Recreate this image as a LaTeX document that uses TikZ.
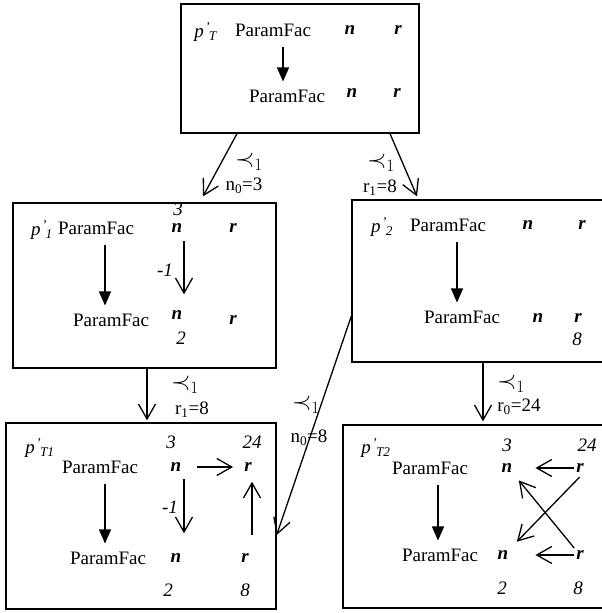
\documentclass[tikz,border=0pt]{standalone}
\usepackage{fontspec}
\setmainfont{Liberation Serif}
\usetikzlibrary{arrows.meta}
\newcommand{\pname}[1]{\textit{p}\textsuperscript{\,'}\kern-2pt\textsubscript{\textit{#1}}}
\begin{document}
\begin{tikzpicture}[x=1pt, y=-1pt, font=\fontsize{19}{22}\selectfont,
        box/.style={draw, line width=1.3pt, inner sep=0pt},
        txt/.style={inner sep=0pt},
        var/.style={inner sep=0pt, font=\fontsize{19}{22}\selectfont\bfseries\itshape},
        num/.style={inner sep=0pt, font=\fontsize{19}{22}\selectfont\itshape},
        fwd/.style={line width=1.2pt, shorten <=10pt, shorten >=8pt, -{Triangle[length=14pt,width=12pt]}},
        dep/.style={line width=1.3pt, -{Straight Barb[length=15pt,width=17pt]}},
        lbl/.style={inner sep=0pt},
        prec/.style={inner sep=0pt, font=\fontsize{24}{26}\selectfont}]
        \useasboundingbox (0,0) rectangle (602,613);
        % ---- 方框 ----
        \node[box, minimum width=238pt, minimum height=129pt] (bT)  at (300,68.5)  {};
        \node[box, minimum width=263pt, minimum height=165pt] (b1)  at (144.5,285.5) {};
        \node[box, minimum width=260pt, minimum height=162pt] (b2)  at (482,281)   {};
        \node[box, minimum width=270pt, minimum height=186pt] (bT1) at (141,516)   {};
        \node[box, minimum width=269pt, minimum height=183pt] (bT2) at (477.5,516.5) {};
        % ---- p'_T ----
        \node[txt] (pT)  at (206,32) {\pname{T}};
        \node[txt] (fTa) at (273,30) {ParamFac};
        \node[var] (nTa) at (350,30) {n};
        \node[var] (rTa) at (398,30) {r};
        \node[txt] (fTb) at (287,96) {ParamFac};
        \node[var] (nTb) at (352,93) {n};
        \node[var] (rTb) at (397,93) {r};
        \draw[fwd] ([xshift=10pt]fTa.south) -- ([xshift=-4pt]fTb.north);
        % ---- p'_1 ----
        \node[txt] (p1)  at (42,230)  {\pname{1}};
        \node[txt] (f1a) at (96,228)  {ParamFac};
        \node[num] (k1a) at (178,209) {3};
        \node[var] (n1a) at (177,228) {n};
        \node[var] (r1a) at (233,228) {r};
        \node[txt] (f1b) at (111,320) {ParamFac};
        \node[var] (n1b) at (177,315) {n};
        \node[num] (k1b) at (181,338) {2};
        \node[var] (r1b) at (233,320) {r};
        \node[num] (m1)  at (165,270) {-1};
        \draw[fwd] ([xshift=9pt]f1a.south) -- ([xshift=-6pt]f1b.north);
        \draw[dep, shorten <=8pt, shorten >=16pt] ([xshift=7pt]n1a.south) -- ([xshift=7pt]n1b.north);
        % ---- p'_2 ----
        \node[txt] (p2)  at (382,227) {\pname{2}};
        \node[txt] (f2a) at (448,225) {ParamFac};
        \node[var] (n2a) at (528,225) {n};
        \node[var] (r2a) at (582,225) {r};
        \node[txt] (f2b) at (462,317) {ParamFac};
        \node[var] (n2b) at (538,318) {n};
        \node[var] (r2b) at (578,318) {r};
        \node[num] (k2b) at (577,339) {8};
        \draw[fwd] ([xshift=9pt]f2a.south) -- ([xshift=-5pt]f2b.north);
        % ---- p'_T1 ----
        \node[txt] (pT1)  at (40,448) {\pname{T1}};
        \node[num] (kT1a) at (171,442) {3};
        \node[num] (lT1a) at (252,442) {24};
        \node[txt] (fT1a) at (100,467) {ParamFac};
        \node[var] (nT1a) at (176,467) {n};
        \node[var] (rT1a) at (248,467) {r};
        \node[txt] (fT1b) at (108,558) {ParamFac};
        \node[var] (nT1b) at (176,558) {n};
        \node[var] (rT1b) at (245,558) {r};
        \node[num] (kT1b) at (168,590) {2};
        \node[num] (lT1b) at (245,590) {8};
        \node[num] (mT1)  at (170,507) {-1};
        \draw[fwd] ([xshift=5pt]fT1a.south) -- ([xshift=-3pt]fT1b.north);
        \draw[dep, shorten <=7pt, shorten >=20pt] ([xshift=8pt]nT1a.south) -- ([xshift=8pt]nT1b.north);
        \draw[dep, shorten <=16pt, shorten >=11pt] (nT1a.east) -- (rT1a.west);
        \draw[dep, shorten <=18pt, shorten >=10pt] ([xshift=7pt]rT1b.north) -- ([xshift=4pt]rT1a.south);
        % ---- p'_T2 ----
        \node[txt] (pT2)  at (376,448) {\pname{T2}};
        \node[num] (kT2a) at (507,445) {3};
        \node[num] (lT2a) at (587,445) {24};
        \node[txt] (fT2a) at (430,468) {ParamFac};
        \node[var] (nT2a) at (507,468) {n};
        \node[var] (rT2a) at (580,468) {r};
        \node[txt] (fT2b) at (440,555) {ParamFac};
        \node[var] (nT2b) at (503,555) {n};
        \node[var] (rT2b) at (580,555) {r};
        \node[num] (kT2b) at (502,588) {2};
        \node[num] (lT2b) at (578,588) {8};
        \draw[fwd] ([xshift=8pt]fT2a.south) -- ([xshift=-2pt]fT2b.north);
        \draw[dep, shorten <=2pt, shorten >=23pt] (rT2a.west) -- (nT2a.east);
        \draw[dep, shorten <=2pt, shorten >=27pt] (rT2b.west) -- (nT2b.east);
        \draw[dep, shorten <=6pt, shorten >=12pt] (rT2a.south east) -- (nT2b.north east);
        \draw[dep, shorten <=3pt, shorten >=10pt] (rT2b.north west) -- (nT2a.south east);
        % ---- 方框之间 ----
        \draw[dep] ([xshift=-63pt]bT.south) -- ([xshift=58.5pt, yshift=6pt]b1.north);
        \node[prec] at (249,162) {$\prec_1$};
        \node[lbl] at (244,186) {n\textsubscript{0}=3};
        \draw[dep] ([xshift=90pt]bT.south) -- ([xshift=-65pt, yshift=3pt]b2.north);
        \node[prec] at (381,163) {$\prec_1$};
        \node[lbl] at (380,188) {r\textsubscript{1}=8};
        \draw[dep] ([xshift=2.5pt]b1.south) -- ([xshift=6pt, yshift=2pt]bT1.north);
        \node[prec] at (185,385) {$\prec_1$};
        \node[lbl] at (192,410) {r\textsubscript{1}=8};
        \draw[dep] ([xshift=1pt]b2.south) -- ([xshift=5.5pt, yshift=3pt]bT2.north);
        \node[prec] at (511,384) {$\prec_1$};
        \node[lbl] at (519,407) {r\textsubscript{0}=24};
        \draw[dep] ([yshift=-35pt]b2.west) -- ([yshift=-19pt]bT1.east);
        \node[prec] at (306,405) {$\prec_1$};
        \node[lbl] at (309,438) {n\textsubscript{0}=8};
\end{tikzpicture}
\end{document}
